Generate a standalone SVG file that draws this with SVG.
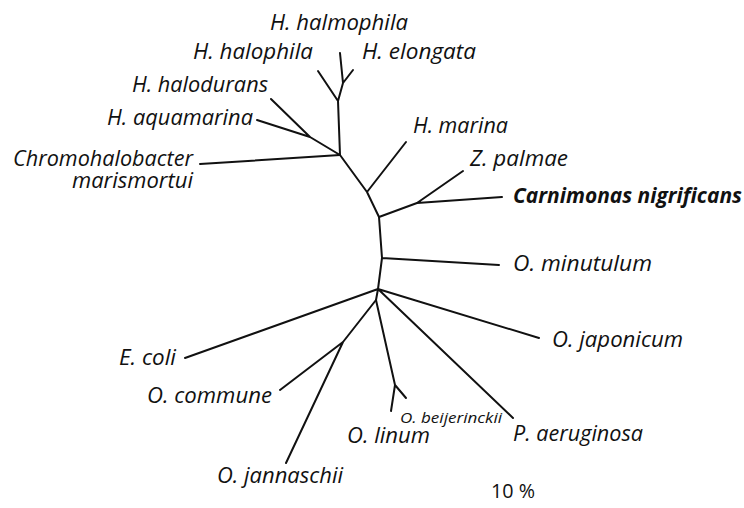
<svg xmlns="http://www.w3.org/2000/svg" width="744" height="508" viewBox="0 0 744 508">
<style>
.br{fill:none;stroke:#111;stroke-width:2;stroke-linecap:round;stroke-linejoin:round}
.lb{font-family:"Open Sans","Noto Sans","Liberation Sans",sans-serif;font-style:italic;font-size:21px;fill:#111}
.e{text-anchor:end}
.b{font-weight:bold}
.sm{font-size:14.5px}
.sc{font-family:"Open Sans","Noto Sans","Liberation Sans",sans-serif;font-size:20px;fill:#111}
</style>
<rect width="744" height="508" fill="#fff"/>
<g id="connectors">
<path class="br" d="M340,53 L343,83 M353,70 L343,83 L338,101 M318,71 L338,101 L340,155"/>
<path class="br" d="M271,99 L310,137 M257,120 L310,137 L340,155 M200,164 L340,155"/>
<path class="br" d="M340,155 L367,192 M406,142 L367,192 L379,217 L417,203 L463,171 M417,203 L502,197"/>
<path class="br" d="M379,217 L382,258 L499,265 M382,258 L378,289"/>
<path class="br" d="M378,289 L539,338 M378,289 L513,418 M378,289 L185,358 M378,289 L376,300 L343,342 L280,390 M343,342 L286,463"/>
<path class="br" d="M376,300 L395,385 L391,411 M395,385 L406,398"/>
</g>
<g id="n-halmophila"><text class="lb" x="270" y="30" textLength="138" lengthAdjust="spacingAndGlyphs">H. halmophila</text></g>
<g id="n-halophila"><text class="lb e" x="313" y="59" textLength="120" lengthAdjust="spacingAndGlyphs">H. halophila</text></g>
<g id="n-elongata"><text class="lb" x="362" y="59" textLength="114" lengthAdjust="spacingAndGlyphs">H. elongata</text></g>
<g id="n-halodurans"><text class="lb e" x="268" y="92" textLength="136" lengthAdjust="spacingAndGlyphs">H. halodurans</text></g>
<g id="n-aquamarina"><text class="lb e" x="253" y="125" textLength="146" lengthAdjust="spacingAndGlyphs">H. aquamarina</text></g>
<g id="n-chromohalobacter"><text class="lb e" x="193" y="166" textLength="180" lengthAdjust="spacingAndGlyphs">Chromohalobacter</text><text class="lb e" x="193" y="188" textLength="121" lengthAdjust="spacingAndGlyphs">marismortui</text></g>
<g id="n-marina"><text class="lb" x="413" y="133" textLength="95" lengthAdjust="spacingAndGlyphs">H. marina</text></g>
<g id="n-palmae"><text class="lb" x="470" y="166" textLength="98" lengthAdjust="spacingAndGlyphs">Z. palmae</text></g>
<g id="n-carnimonas"><text class="lb b" x="513" y="203" textLength="229" lengthAdjust="spacingAndGlyphs">Carnimonas nigrificans</text></g>
<g id="n-minutulum"><text class="lb" x="513" y="271" textLength="139" lengthAdjust="spacingAndGlyphs">O. minutulum</text></g>
<g id="n-japonicum"><text class="lb" x="552" y="347" textLength="131" lengthAdjust="spacingAndGlyphs">O. japonicum</text></g>
<g id="n-aeruginosa"><text class="lb" x="513" y="441" textLength="130" lengthAdjust="spacingAndGlyphs">P. aeruginosa</text></g>
<g id="n-beijerinckii"><text class="lb sm" x="400" y="423" textLength="102" lengthAdjust="spacingAndGlyphs">O. beijerinckii</text></g>
<g id="n-linum"><text class="lb" x="347" y="443" textLength="83" lengthAdjust="spacingAndGlyphs">O. linum</text></g>
<g id="n-jannaschii"><text class="lb" x="217" y="483" textLength="126" lengthAdjust="spacingAndGlyphs">O. jannaschii</text></g>
<g id="n-commune"><text class="lb e" x="272" y="403" textLength="125" lengthAdjust="spacingAndGlyphs">O. commune</text></g>
<g id="n-ecoli"><text class="lb e" x="176" y="365" textLength="57" lengthAdjust="spacingAndGlyphs">E. coli</text></g>
<g id="scale"><text class="sc" x="491" y="498" textLength="44" lengthAdjust="spacingAndGlyphs">10 %</text></g>
</svg>
